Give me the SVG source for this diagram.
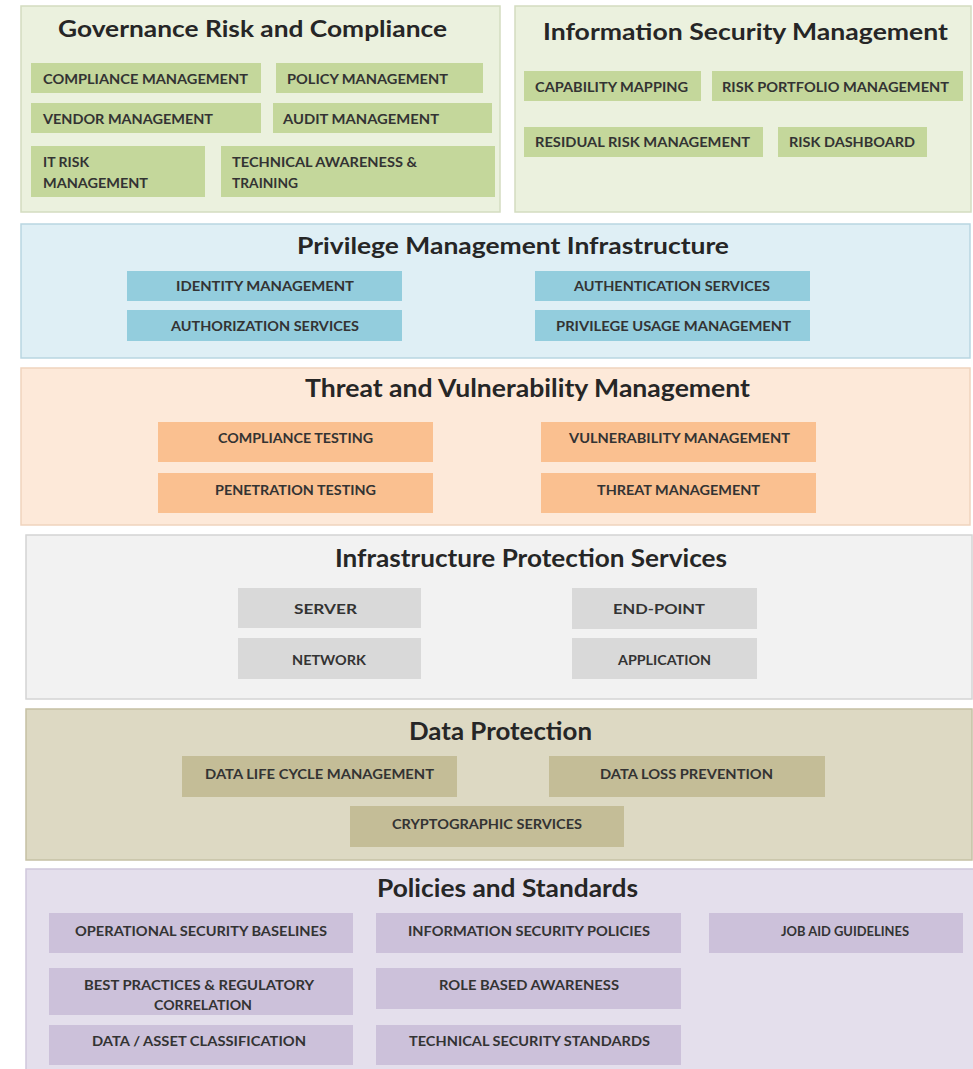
<svg xmlns="http://www.w3.org/2000/svg" width="973" height="1069" viewBox="0 0 973 1069">
<style>
.title{font-family:Lato,"Open Sans",sans-serif;font-weight:bold;fill:#262626}
.lbl{font-family:Lato,"Open Sans",sans-serif;font-weight:bold;font-size:14px;fill:#333333}
.p-grc{fill:#ebf1de;stroke:#d3dcc0;stroke-width:1.5}
.b-grc{fill:#c4d79b}
.p-pmi{fill:#dfeff5;stroke:#b9d6e1;stroke-width:1.5}
.b-pmi{fill:#93cddd}
.p-tvm{fill:#fde9d9;stroke:#efd3bd;stroke-width:1.5}
.b-tvm{fill:#fac090}
.p-ips{fill:#f2f2f2;stroke:#d4d4d4;stroke-width:1.5}
.b-ips{fill:#d9d9d9}
.p-dp{fill:#ddd9c3;stroke:#c5c0a4;stroke-width:1.5}
.b-dp{fill:#c4bd97}
.p-ps{fill:#e4dfec;stroke:#cfc8dc;stroke-width:1.5}
.b-ps{fill:#ccc1da}
</style>
<rect width="973" height="1069" fill="#ffffff"/>

<g id="grc">
<rect class="p-grc" x="21" y="6" width="479" height="206"/>
<text class="title" x="58" y="37" font-size="22" textLength="389" lengthAdjust="spacingAndGlyphs">Governance Risk and Compliance</text>
<g id="grc-compliance"><rect class="b-grc" x="31" y="63" width="230" height="30"/><text class="lbl" x="43" y="84" textLength="205" lengthAdjust="spacingAndGlyphs">COMPLIANCE MANAGEMENT</text></g>
<g id="grc-policy"><rect class="b-grc" x="276" y="63" width="207" height="30"/><text class="lbl" x="287" y="84" textLength="161" lengthAdjust="spacingAndGlyphs">POLICY MANAGEMENT</text></g>
<g id="grc-vendor"><rect class="b-grc" x="31" y="103" width="230" height="30"/><text class="lbl" x="43" y="124" textLength="170" lengthAdjust="spacingAndGlyphs">VENDOR MANAGEMENT</text></g>
<g id="grc-audit"><rect class="b-grc" x="273" y="103" width="219" height="30"/><text class="lbl" x="283" y="124" textLength="156" lengthAdjust="spacingAndGlyphs">AUDIT MANAGEMENT</text></g>
<g id="grc-itrisk"><rect class="b-grc" x="31" y="146" width="174" height="51"/><text class="lbl" x="43" y="167" textLength="46" lengthAdjust="spacingAndGlyphs">IT RISK</text><text class="lbl" x="43" y="188" textLength="105" lengthAdjust="spacingAndGlyphs">MANAGEMENT</text></g>
<g id="grc-training"><rect class="b-grc" x="221" y="146" width="274" height="51"/><text class="lbl" x="232" y="167" textLength="185" lengthAdjust="spacingAndGlyphs">TECHNICAL AWARENESS &amp;</text><text class="lbl" x="232" y="188" textLength="66" lengthAdjust="spacingAndGlyphs">TRAINING</text></g>
</g>

<g id="ism">
<rect class="p-grc" x="515" y="6" width="456" height="206"/>
<text class="title" x="543" y="40" font-size="22" textLength="405" lengthAdjust="spacingAndGlyphs">Information Security Management</text>
<g id="ism-capability"><rect class="b-grc" x="524" y="71" width="177" height="30"/><text class="lbl" x="535" y="92" textLength="153" lengthAdjust="spacingAndGlyphs">CAPABILITY MAPPING</text></g>
<g id="ism-portfolio"><rect class="b-grc" x="712" y="71" width="251" height="30"/><text class="lbl" x="722" y="92" textLength="227" lengthAdjust="spacingAndGlyphs">RISK PORTFOLIO MANAGEMENT</text></g>
<g id="ism-residual"><rect class="b-grc" x="524" y="127" width="239" height="30"/><text class="lbl" x="535" y="147" textLength="215" lengthAdjust="spacingAndGlyphs">RESIDUAL RISK MANAGEMENT</text></g>
<g id="ism-dashboard"><rect class="b-grc" x="778" y="127" width="149" height="30"/><text class="lbl" x="789" y="147" textLength="126" lengthAdjust="spacingAndGlyphs">RISK DASHBOARD</text></g>
</g>

<g id="pmi">
<rect class="p-pmi" x="21" y="224" width="949" height="134"/>
<text class="title" x="297" y="254" font-size="23" textLength="432" lengthAdjust="spacingAndGlyphs">Privilege Management Infrastructure</text>
<g id="pmi-identity"><rect class="b-pmi" x="127" y="271" width="275" height="30"/><text class="lbl" x="176" y="291" textLength="178" lengthAdjust="spacingAndGlyphs">IDENTITY MANAGEMENT</text></g>
<g id="pmi-authn"><rect class="b-pmi" x="535" y="271" width="275" height="30"/><text class="lbl" x="574" y="291" textLength="196" lengthAdjust="spacingAndGlyphs">AUTHENTICATION SERVICES</text></g>
<g id="pmi-authz"><rect class="b-pmi" x="127" y="310" width="275" height="31"/><text class="lbl" x="171" y="331" textLength="188" lengthAdjust="spacingAndGlyphs">AUTHORIZATION SERVICES</text></g>
<g id="pmi-usage"><rect class="b-pmi" x="535" y="310" width="275" height="31"/><text class="lbl" x="556" y="331" textLength="235" lengthAdjust="spacingAndGlyphs">PRIVILEGE USAGE MANAGEMENT</text></g>
</g>

<g id="tvm">
<rect class="p-tvm" x="21" y="368" width="949" height="157"/>
<text class="title" x="305" y="397" font-size="24" textLength="445" lengthAdjust="spacingAndGlyphs">Threat and Vulnerability Management</text>
<g id="tvm-compliance"><rect class="b-tvm" x="158" y="422" width="275" height="40"/><text class="lbl" x="218" y="443" textLength="155" lengthAdjust="spacingAndGlyphs">COMPLIANCE TESTING</text></g>
<g id="tvm-vuln"><rect class="b-tvm" x="541" y="422" width="275" height="40"/><text class="lbl" x="569" y="443" textLength="221" lengthAdjust="spacingAndGlyphs">VULNERABILITY MANAGEMENT</text></g>
<g id="tvm-pentest"><rect class="b-tvm" x="158" y="473" width="275" height="40"/><text class="lbl" x="215" y="495" textLength="161" lengthAdjust="spacingAndGlyphs">PENETRATION TESTING</text></g>
<g id="tvm-threat"><rect class="b-tvm" x="541" y="473" width="275" height="40"/><text class="lbl" x="597" y="495" textLength="163" lengthAdjust="spacingAndGlyphs">THREAT MANAGEMENT</text></g>
</g>

<g id="ips">
<rect class="p-ips" x="26" y="535" width="946" height="164"/>
<text class="title" x="335" y="567" font-size="24" textLength="392" lengthAdjust="spacingAndGlyphs">Infrastructure Protection Services</text>
<g id="ips-server"><rect class="b-ips" x="238" y="588" width="183" height="40"/><text class="lbl" x="294" y="614" textLength="63" lengthAdjust="spacingAndGlyphs">SERVER</text></g>
<g id="ips-endpoint"><rect class="b-ips" x="572" y="588" width="185" height="41"/><text class="lbl" x="613" y="614" textLength="92" lengthAdjust="spacingAndGlyphs">END-POINT</text></g>
<g id="ips-network"><rect class="b-ips" x="238" y="638" width="183" height="41"/><text class="lbl" x="292" y="665" textLength="74" lengthAdjust="spacingAndGlyphs">NETWORK</text></g>
<g id="ips-application"><rect class="b-ips" x="572" y="638" width="185" height="41"/><text class="lbl" x="618" y="665" textLength="93" lengthAdjust="spacingAndGlyphs">APPLICATION</text></g>
</g>

<g id="dp">
<rect class="p-dp" x="26" y="709" width="946" height="151"/>
<text class="title" x="409" y="740" font-size="24" textLength="183" lengthAdjust="spacingAndGlyphs">Data Protection</text>
<g id="dp-lifecycle"><rect class="b-dp" x="182" y="756" width="275" height="41"/><text class="lbl" x="205" y="779" textLength="229" lengthAdjust="spacingAndGlyphs">DATA LIFE CYCLE MANAGEMENT</text></g>
<g id="dp-dlp"><rect class="b-dp" x="549" y="756" width="276" height="41"/><text class="lbl" x="600" y="779" textLength="173" lengthAdjust="spacingAndGlyphs">DATA LOSS PREVENTION</text></g>
<g id="dp-crypto"><rect class="b-dp" x="350" y="806" width="274" height="41"/><text class="lbl" x="392" y="829" textLength="190" lengthAdjust="spacingAndGlyphs">CRYPTOGRAPHIC SERVICES</text></g>
</g>

<g id="ps">
<rect class="p-ps" x="26" y="869" width="952" height="210"/>
<text class="title" x="377" y="897" font-size="24" textLength="261" lengthAdjust="spacingAndGlyphs">Policies and Standards</text>
<g id="ps-baselines"><rect class="b-ps" x="49" y="913" width="304" height="40"/><text class="lbl" x="75" y="936" textLength="252" lengthAdjust="spacingAndGlyphs">OPERATIONAL SECURITY BASELINES</text></g>
<g id="ps-policies"><rect class="b-ps" x="376" y="913" width="305" height="40"/><text class="lbl" x="408" y="936" textLength="242" lengthAdjust="spacingAndGlyphs">INFORMATION SECURITY POLICIES</text></g>
<g id="ps-jobaid"><rect class="b-ps" x="709" y="913" width="254" height="40"/><text class="lbl" x="781" y="936" textLength="128" lengthAdjust="spacingAndGlyphs">JOB AID GUIDELINES</text></g>
<g id="ps-bestpractices"><rect class="b-ps" x="49" y="968" width="304" height="47"/><text class="lbl" x="84" y="990" textLength="230" lengthAdjust="spacingAndGlyphs">BEST PRACTICES &amp; REGULATORY</text><text class="lbl" x="154" y="1010" textLength="98" lengthAdjust="spacingAndGlyphs">CORRELATION</text></g>
<g id="ps-role"><rect class="b-ps" x="376" y="968" width="305" height="41"/><text class="lbl" x="439" y="990" textLength="180" lengthAdjust="spacingAndGlyphs">ROLE BASED AWARENESS</text></g>
<g id="ps-classification"><rect class="b-ps" x="49" y="1025" width="304" height="40"/><text class="lbl" x="92" y="1046" textLength="214" lengthAdjust="spacingAndGlyphs">DATA / ASSET CLASSIFICATION</text></g>
<g id="ps-technical"><rect class="b-ps" x="376" y="1025" width="305" height="40"/><text class="lbl" x="409" y="1046" textLength="241" lengthAdjust="spacingAndGlyphs">TECHNICAL SECURITY STANDARDS</text></g>
</g>

<g id="connectors"></g>
</svg>
